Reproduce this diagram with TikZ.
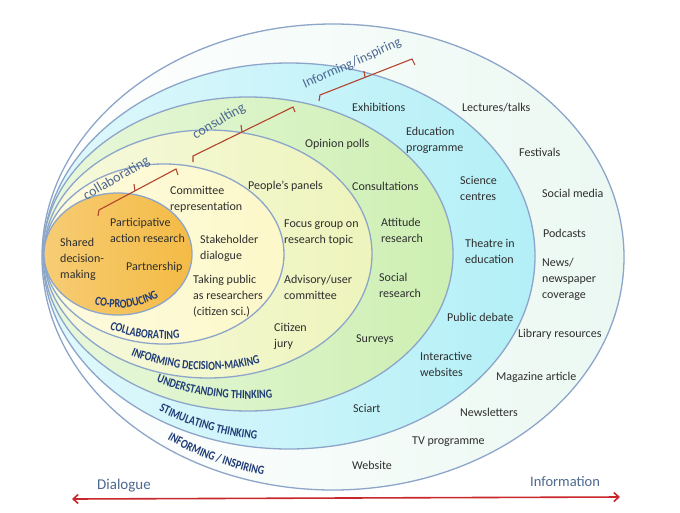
\documentclass[tikz,border=0pt]{standalone}
\usepackage{fontspec}
\setmainfont{Carlito}
\newfontfamily\wordartfam{Carlito}[FakeStretch=0.8]
\usetikzlibrary{decorations.text,arrows.meta}
\definecolor{ringline}{HTML}{8CA5C9}
\definecolor{cOrange}{HTML}{F4BB45}
\definecolor{cYellow}{HTML}{FDF8C9}
\definecolor{cYG}{HTML}{EEF4BC}
\definecolor{cGreen}{HTML}{CDEFB2}
\definecolor{cCyan}{HTML}{B3EFF7}
\definecolor{cPale}{HTML}{EBF8F2}
\definecolor{txt}{HTML}{2E2E2E}
\definecolor{wnavy}{HTML}{1F3C78}
\definecolor{slate}{HTML}{4D6891}
\definecolor{brk}{HTML}{B3432F}
\definecolor{arrcol}{HTML}{C8282C}
\newcommand\wlfont{\wordartfam\fontsize{12.5}{12.5}\selectfont\bfseries}
\begin{document}
\begin{tikzpicture}[x=1pt,y=-1pt,
  ring/.style={draw=ringline,line width=1.3pt},
  item/.style={anchor=west,inner sep=0pt,align=left,text=txt,font=\fontsize{12}{16}\selectfont},
  toplab/.style={inner sep=0pt,text=slate,font=\fontsize{14}{14}\selectfont},
  bracket/.style={draw=brk,line width=1.1pt},
  endlab/.style={anchor=west,inner sep=0pt,text=slate,font=\fontsize{15}{15}\selectfont},
  arclab/.style={decorate},
]
\fill[white] (0,0) rectangle (680,512);
\useasboundingbox (0,0) rectangle (680,512);

% nested ellipses
\path[ring, left color=white, right color=cPale] (333,257) ellipse [x radius=291pt, y radius=233pt];
\path[ring, left color=cCyan!40!white, right color=cCyan] (289,256) ellipse [x radius=246pt, y radius=193pt];
\path[ring, left color=cGreen!45!white, right color=cGreen] (248,254) ellipse [x radius=205pt, y radius=157pt];
\path[ring, left color=cYG!50!white, right color=cYG] (208,254) ellipse [x radius=164pt, y radius=124pt];
\path[ring, left color=cYellow!60!white, right color=cYellow] (164,254) ellipse [x radius=120pt, y radius=90pt];
\path[ring, left color=cOrange!75!white, right color=cOrange] (118,254) ellipse [x radius=74pt, y radius=61pt];

% curved level labels
\path[arclab, shift={(118,254)}, decoration={text along path,text align=center,text color=wnavy,text={|\wlfont|CO-PRODUCING}}]
  (229:67pt and 54pt) arc[start angle=229,end angle=329,x radius=67pt,y radius=54pt];
\path[arclab, shift={(164,254)}, decoration={text along path,text align=center,text color=wnavy,text={|\wlfont|COLLABORATING}}]
  (219:116pt and 85pt) arc[start angle=219,end angle=299,x radius=116pt,y radius=85pt];
\path[arclab, shift={(208,254)}, decoration={text along path,text align=center,text color=wnavy,text={|\wlfont|INFORMING DECISION-MAKING}}]
  (219.5:157pt and 116pt) arc[start angle=219.5,end angle=309.5,x radius=157pt,y radius=116pt];
\path[arclab, shift={(248,254)}, decoration={text along path,text align=center,text color=wnavy,text={|\wlfont|UNDERSTANDING THINKING}}]
  (218.6:193pt and 145pt) arc[start angle=218.6,end angle=298.6,x radius=193pt,y radius=145pt];
\path[arclab, shift={(289,256)}, decoration={text along path,text align=center,text color=wnavy,text={|\wlfont|STIMULATING THINKING}}]
  (213.3:238pt and 185pt) arc[start angle=213.3,end angle=283.3,x radius=238pt,y radius=185pt];
\path[arclab, shift={(333,257)}, decoration={text along path,text align=center,text color=wnavy,text={|\wlfont|INFORMING / INSPIRING}}]
  (208.6:283pt and 225pt) arc[start angle=208.6,end angle=278.6,x radius=283pt,y radius=225pt];

% top labels and brackets
\node[toplab, rotate=30] (tcol) at (116.5,178.5) {collaborating};
\node[toplab, rotate=30] (tcon) at (219,121.5) {consulting};
\node[toplab, rotate=24, font=\fontsize{13.5}{13.5}\selectfont] (tinf) at (352,63.5) {Informing/inspiring};
\draw[bracket] (98,216) -- (99,210) -- (176,169) -- (178,175);
\draw[bracket] (135,191) -- (134,184);
\draw[bracket] (193,162) -- (193,156) -- (293,107) -- (295,112);
\draw[bracket] (242,132) -- (241,125);
\draw[bracket] (319,101) -- (320,95) -- (412,59) -- (415,65);
\draw[bracket] (365,77) -- (364,71);

% items
\node[item] (i1) at (110,230) {Participative\\action research};
\node[item] (i2) at (60,259) {Shared\\decision-\\making};
\node[item] (i3) at (126,267) {Partnership};
\node[item] (i4) at (170,199.5) {Committee\\representation};
\node[item] (i5) at (200,248.5) {Stakeholder\\dialogue};
\node[item] (i6) at (193,296) {Taking public\\as researchers\\(citizen sci.)};
\node[item] (i7) at (248,186) {People’s panels};
\node[item] (i8) at (284,233) {Focus group on\\research topic};
\node[item] (i9) at (284,287) {Advisory/user\\committee};
\node[item] (i10) at (274,336) {Citizen\\jury};
\node[item] (i11) at (305,144) {Opinion polls};
\node[item] (i12) at (352,186) {Consultations};
\node[item] (i13) at (381,230) {Attitude\\research};
\node[item] (i14) at (379,285) {Social\\research};
\node[item] (i15) at (356,340) {Surveys};
\node[item] (i16) at (352,107) {Exhibitions};
\node[item] (i17) at (406,140) {Education\\programme};
\node[item] (i18) at (460,188) {Science\\centres};
\node[item] (i19) at (465,251.5) {Theatre in\\education};
\node[item] (i20) at (447,317) {Public debate};
\node[item] (i21) at (420,364) {Interactive\\websites};
\node[item] (i22) at (353,408) {Sciart};
\node[item] (i23) at (462,108) {Lectures/talks};
\node[item] (i24) at (519,152) {Festivals};
\node[item] (i25) at (542,193) {Social media};
\node[item] (i26) at (543,233) {Podcasts};
\node[item] (i27) at (542,279) {News/\\newspaper\\coverage};
\node[item] (i28) at (518,334) {Library resources};
\node[item] (i29) at (496,377) {Magazine article};
\node[item] (i30) at (460,412) {Newsletters};
\node[item] (i31) at (412,442) {TV programme};
\node[item] (i32) at (352,465) {Website};

% axis
\node[endlab] (dlg) at (97,486) {Dialogue};
\node[endlab, font=\fontsize{14.5}{14.5}\selectfont] (inf) at (530,482) {Information};
\coordinate (arrL) at (72,499);
\coordinate (arrR) at (620,497);
\draw[draw=arrcol, line width=1.6pt, {Straight Barb[length=5pt,width=9pt]}-{Straight Barb[length=5pt,width=9pt]}] (arrL) -- (arrR);
\end{tikzpicture}
\end{document}
